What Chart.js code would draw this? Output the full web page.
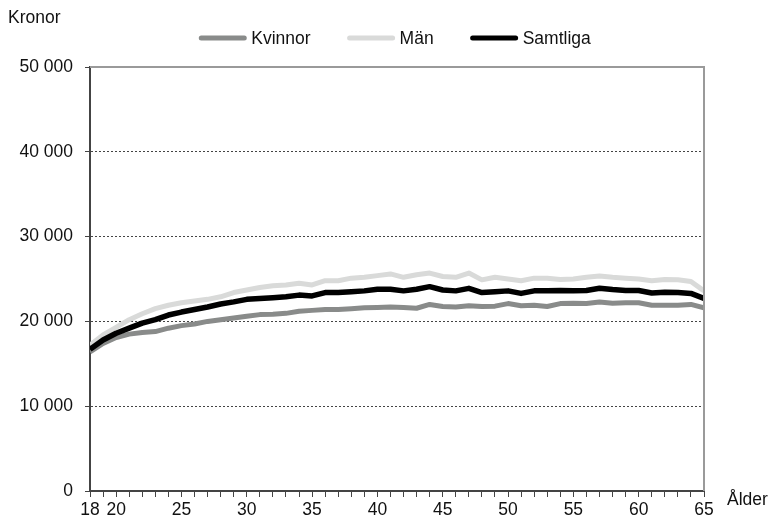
<!DOCTYPE html>
<html>
<head>
<meta charset="utf-8">
<script src="https://cdn.jsdelivr.net/npm/chart.js@4.4.1/dist/chart.umd.min.js"></script>
<style>
  html, body { margin: 0; padding: 0; background: #fff; }
  #wrap { width: 771px; height: 523px; position: relative; }
</style>
</head>
<body>
<div id="wrap"><canvas id="incomeChart"></canvas></div>
<script>
// Ages on the x axis
const ages = [18, 19, 20, 21, 22, 23, 24, 25, 26, 27, 28, 29, 30, 31, 32, 33, 34, 35, 36, 37, 38, 39, 40, 41,
              42, 43, 44, 45, 46, 47, 48, 49, 50, 51, 52, 53, 54, 55, 56, 57, 58, 59, 60, 61, 62, 63, 64, 65];

// Monthly pay in kronor
const kvinnor = [16400, 17400, 18100, 18500, 18700, 18800, 19200, 19500, 19700, 20000, 20200, 20400,
                 20600, 20800, 20850, 20950, 21200, 21300, 21400, 21400, 21500, 21600, 21650, 21700,
                 21650, 21550, 22000, 21750, 21700, 21850, 21750, 21800, 22100, 21850, 21900, 21750,
                 22100, 22150, 22100, 22300, 22150, 22200, 22200, 21900, 21900, 21900, 22000, 21600];
const man = [17200, 18400, 19300, 20200, 20900, 21500, 21900, 22200, 22400, 22600, 22900, 23400,
             23700, 24000, 24200, 24300, 24500, 24300, 24800, 24800, 25100, 25200, 25400, 25600,
             25200, 25500, 25700, 25300, 25200, 25700, 24900, 25200, 25000, 24800, 25100, 25100,
             24950, 25000, 25200, 25350, 25200, 25100, 25000, 24800, 24950, 24900, 24700, 23600];
const samtliga = [16700, 17800, 18600, 19200, 19800, 20200, 20750, 21100, 21400, 21700, 22050, 22300,
                  22600, 22700, 22800, 22900, 23100, 23000, 23400, 23400, 23500, 23600, 23800, 23800,
                  23600, 23800, 24100, 23700, 23600, 23900, 23400, 23500, 23600, 23300, 23600, 23600,
                  23650, 23600, 23650, 23900, 23750, 23650, 23650, 23350, 23450, 23400, 23300, 22700];

// Which x positions get a label
const xLabels = [18, 20, 25, 30, 35, 40, 45, 50, 55, 60, 65];

const FONT = 'Liberation Sans, Arial, sans-serif';

function toPoints(values) {
    return values.map((v, i) => ({ x: ages[i], y: v }));
}

// Frame, legend and axis titles drawn on top of the chart
const extras = {
    id: 'extras',
    afterDraw(chart) {
        const { ctx, chartArea } = chart;
        ctx.save();
        // light grey frame on top and right
        ctx.strokeStyle = '#9a9a9a';
        ctx.lineWidth = 2;
        ctx.beginPath();
        ctx.moveTo(chartArea.left, chartArea.top);
        ctx.lineTo(chartArea.right, chartArea.top);
        ctx.lineTo(chartArea.right, chartArea.bottom);
        ctx.stroke();

        ctx.fillStyle = '#111';
        ctx.font = '17.5px ' + FONT;
        ctx.textBaseline = 'middle';
        ctx.textAlign = 'left';
        ctx.fillText('Kronor', 8, 18);
        ctx.fillText('Ålder', 727, 500);

        // legend
        const sets = chart.data.datasets;
        const lineLen = 47, gapText = 5, gapItem = 37;
        let total = 0;
        sets.forEach((d, i) => {
            total += lineLen + gapText + ctx.measureText(d.label).width;
            if (i < sets.length - 1) total += gapItem;
        });
        let x = 395 - total / 2;
        const y = 38;
        sets.forEach(d => {
            ctx.strokeStyle = d.borderColor;
            ctx.lineWidth = 5;
            ctx.lineCap = 'round';
            ctx.beginPath();
            ctx.moveTo(x + 2, y);
            ctx.lineTo(x + lineLen - 2, y);
            ctx.stroke();
            x += lineLen + gapText;
            ctx.fillStyle = '#111';
            ctx.fillText(d.label, x, y + 1);
            x += ctx.measureText(d.label).width + gapItem;
        });
        ctx.restore();
    }
};

const ctx = document.getElementById('incomeChart').getContext('2d');
new Chart(ctx, {
    type: 'line',
    data: {
        datasets: [
            { label: 'Kvinnor', data: toPoints(kvinnor), borderColor: '#898b8a', order: 2 },
            { label: 'Män', data: toPoints(man), borderColor: '#d9dad9', order: 3 },
            { label: 'Samtliga', data: toPoints(samtliga), borderColor: '#000000', borderWidth: 5.5, order: 1 }
        ]
    },
    options: {
        responsive: true,
        maintainAspectRatio: false,
        animation: false,
        layout: { padding: { left: 0, right: 67, top: 67, bottom: 0 } },
        elements: {
            line: { borderWidth: 5, tension: 0, borderJoinStyle: 'round', borderCapStyle: 'butt' },
            point: { radius: 0 }
        },
        plugins: {
            legend: { display: false },
            tooltip: { enabled: false }
        },
        scales: {
            x: {
                type: 'linear',
                min: 18,
                max: 65,
                afterFit: scale => { scale.height = 32; },
                ticks: {
                    stepSize: 1,
                    autoSkip: false,
                    maxRotation: 0,
                    padding: 3,
                    color: '#111',
                    font: { family: FONT, size: 17.5 },
                    callback: v => xLabels.includes(v) ? String(v) : ''
                },
                grid: {
                    drawOnChartArea: false,
                    drawTicks: true,
                    tickLength: 6,
                    tickColor: '#444',
                    tickWidth: 1
                },
                border: { color: '#444', width: 2 }
            },
            y: {
                min: 0,
                max: 50000,
                afterFit: scale => { scale.width = 90; },
                ticks: {
                    stepSize: 10000,
                    padding: 12,
                    color: '#111',
                    font: { family: FONT, size: 17.5 },
                    callback: v => String(v).replace(/\B(?=(\d{3})+(?!\d))/g, ' ')
                },
                grid: {
                    color: c => (c.tick && (c.tick.value === 0 || c.tick.value === 50000)) ? 'rgba(0,0,0,0)' : '#444',
                    lineWidth: 1,
                    tickLength: 5,
                    tickColor: '#444',
                    tickWidth: 1,
                    tickBorderDash: []
                },
                border: { color: '#444', width: 2, dash: [2, 2] }
            }
        }
    },
    plugins: [extras]
});
</script>
</body>
</html>
